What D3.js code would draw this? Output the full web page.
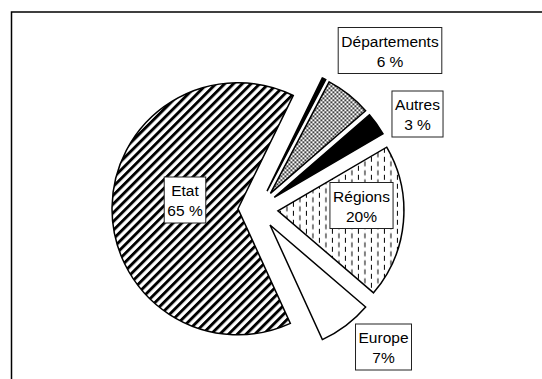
<!DOCTYPE html>
<html><head><meta charset="utf-8">
<script src="https://cdn.jsdelivr.net/npm/d3@7"></script>
<style>
html,body{margin:0;padding:0;background:#fff;}
svg{display:block;}
text{font-family:"Liberation Sans",Arial,sans-serif;}
</style></head>
<body><svg id="c" width="542" height="379"></svg>
<script>
// Data
const categories = ["", "Départements", "Autres", "Régions", "Europe", "Etat"];
const values = [0.5, 6, 3, 20, 7, 65];
const valueLabels = ["", "6 %", "3 %", "20%", "7%", "65 %"];
const fills = ["black", "url(#dots)", "black", "url(#dash)", "white", "url(#diag)"];

// Label box layout (centres)
const labelPos = [null, [390, 50.5], [417.5, 114], [361.5, 205.5], [383.5, 347], [185, 200]];

const svg = d3.select("#c");
const defs = svg.append("defs");

// diagonal stripes
const pd = defs.append("pattern").attr("id","diag").attr("patternUnits","userSpaceOnUse")
  .attr("width",6.2).attr("height",6.2).attr("patternTransform","rotate(45)");
pd.append("rect").attr("width",6.2).attr("height",6.2).attr("fill","white");
pd.append("rect").attr("x",0).attr("width",2.9).attr("height",6.2).attr("fill","black");

// dots
const pdot = defs.append("pattern").attr("id","dots").attr("patternUnits","userSpaceOnUse")
  .attr("width",4).attr("height",4);
pdot.append("rect").attr("width",4).attr("height",4).attr("fill","white");
pdot.append("circle").attr("cx",1).attr("cy",1).attr("r",1).attr("fill","black");
pdot.append("circle").attr("cx",3).attr("cy",3).attr("r",1).attr("fill","black");

// vertical dashes (staggered columns)
const pdash = defs.append("pattern").attr("id","dash").attr("patternUnits","userSpaceOnUse")
  .attr("width",13).attr("height",9);
pdash.append("rect").attr("width",13).attr("height",9).attr("fill","white");
pdash.append("rect").attr("x",2).attr("y",0).attr("width",1).attr("height",5).attr("fill","black");
pdash.append("rect").attr("x",8.5).attr("y",4.5).attr("width",1).attr("height",5).attr("fill","black");
pdash.append("rect").attr("x",8.5).attr("y",-4.5).attr("width",1).attr("height",5).attr("fill","black");

// frame
svg.append("rect").attr("x",11.5).attr("y",12).attr("width",600).attr("height",600)
  .attr("fill","none").attr("stroke","black").attr("stroke-width",1.5);

const cx = 258, cy = 209, r = 126, explode = 20;
const deg = Math.PI/180;
const pie = d3.pie().sort(null).value(d => d).startAngle(26*deg).endAngle(386*deg);
const arcs = pie(values);
const arc = d3.arc().innerRadius(0).outerRadius(r);

const g = svg.append("g").attr("transform", `translate(${cx},${cy})`);
g.selectAll("path").data(arcs).join("path")
  .attr("transform", d => {
    const m = (d.startAngle + d.endAngle)/2;
    return `translate(${explode*Math.sin(m)},${-explode*Math.cos(m)})`;
  })
  .attr("d", arc)
  .attr("fill", (d,i) => fills[i])
  .attr("stroke","black").attr("stroke-width",1.5).attr("stroke-linejoin","miter");

// labels
categories.forEach((c,i) => {
  if (!c) return;
  const [x,y] = labelPos[i];
  const lg = svg.append("g").attr("transform",`translate(${x},${y})`);
  const t = lg.append("text").attr("text-anchor","middle").attr("font-size",15.5).attr("fill","#000");
  t.append("tspan").attr("x",0).attr("y",-4).text(c);
  t.append("tspan").attr("x",0).attr("y",16).text(valueLabels[i]);
  const bb = t.node().getBBox();
  const w = bb.width + 6, h = 46;
  lg.insert("rect","text").attr("x",-w/2).attr("y",-h/2).attr("width",w).attr("height",h)
    .attr("fill","white").attr("stroke","#222").attr("stroke-width",1);
});
</script></body></html>
